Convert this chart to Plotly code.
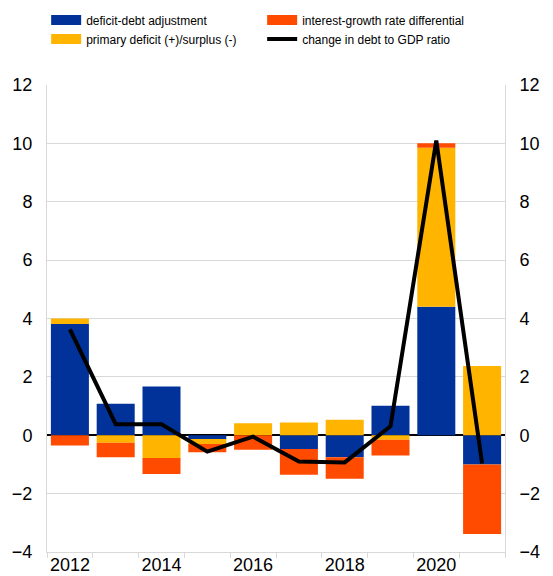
import plotly.graph_objects as go

years = [2012, 2013, 2014, 2015, 2016, 2017, 2018, 2019, 2020, 2021]
deficit_debt_adj = [3.81, 1.08, 1.67, -0.13, 0.0, -0.47, -0.75, 1.01, 4.40, -1.00]
primary_deficit = [0.19, -0.26, -0.78, -0.17, 0.41, 0.44, 0.53, -0.15, 5.45, 2.37]
interest_growth = [-0.35, -0.49, -0.55, -0.28, -0.50, -0.88, -0.74, -0.54, 0.15, -2.38]
debt_change = [3.63, 0.38, 0.38, -0.56, -0.05, -0.90, -0.93, 0.31, 10.10, -0.97]

x_tick_vals = [2012, 2014, 2016, 2018, 2020]
y_tick_vals = [-4, -2, 0, 2, 4, 6, 8, 10, 12]

BLUE = "#003299"
YELLOW = "#FFB400"
RED = "#FF4B00"
GRID = "#d9d9d9"
FONT = "Liberation Sans, Arial, sans-serif"

series = [
    ("deficit-debt adjustment", deficit_debt_adj, BLUE, 1),
    ("primary deficit (+)/surplus (-)", primary_deficit, YELLOW, 3),
    ("interest-growth rate differential", interest_growth, RED, 2),
]

fig = go.Figure()
for name, vals, color, rank in series:
    fig.add_trace(go.Bar(x=years, y=vals, name=name, marker_color=color,
                         marker_line_width=0, width=0.83, showlegend=False,
                         legendgroup=name))
    # legend swatch (wide rectangle like the reference legend)
    fig.add_trace(go.Scatter(x=[None], y=[None], mode="lines", name=name,
                             line=dict(color=color, width=15), legendgroup=name,
                             legendrank=rank, hoverinfo="skip"))
fig.add_trace(go.Scatter(x=years, y=debt_change, name="change in debt to GDP ratio",
                         mode="lines", line=dict(color="black", width=4), yaxis="y2",
                         legendrank=4))

yax = dict(range=[-4, 12], tickvals=y_tick_vals, showgrid=True, gridcolor=GRID,
           gridwidth=1, zeroline=True, zerolinecolor="black", zerolinewidth=1.5,
           showline=True, linecolor=GRID, linewidth=1, ticks="",
           tickfont=dict(size=18, color="#000000", family=FONT),
           ticklabelstandoff=10, fixedrange=True, automargin=False)

fig.update_layout(
    width=545, height=568,
    margin=dict(l=39, r=48, t=77, b=24, autoexpand=False),
    paper_bgcolor="white", plot_bgcolor="white",
    barmode="relative", bargap=0.17,
    font=dict(family=FONT, color="#000000"),
    xaxis=dict(range=[2011.5, 2021.5], tickvals=x_tick_vals, ticks="",
               showgrid=False, zeroline=False, showline=True, linecolor=GRID,
               linewidth=1, tickfont=dict(size=18, family=FONT), automargin=False,
               ticklabelstandoff=-4,
               minor=dict(tick0=2011.5, dtick=1, ticks="outside", ticklen=5,
                          tickcolor=GRID, tickwidth=1, showgrid=False),
               mirror=False),
    yaxis=yax,
    yaxis2=dict(yax, overlaying="y", side="right", zeroline=False, showgrid=False),
    legend=dict(orientation="h", xref="container", yref="paper",
                x=0.07, y=1.17, xanchor="left", yanchor="top",
                entrywidth=171, entrywidthmode="pixels",
                font=dict(size=12, family=FONT), traceorder="normal",
                bgcolor="rgba(0,0,0,0)"),
    showlegend=True,
)

fig.write_html("out.html")
